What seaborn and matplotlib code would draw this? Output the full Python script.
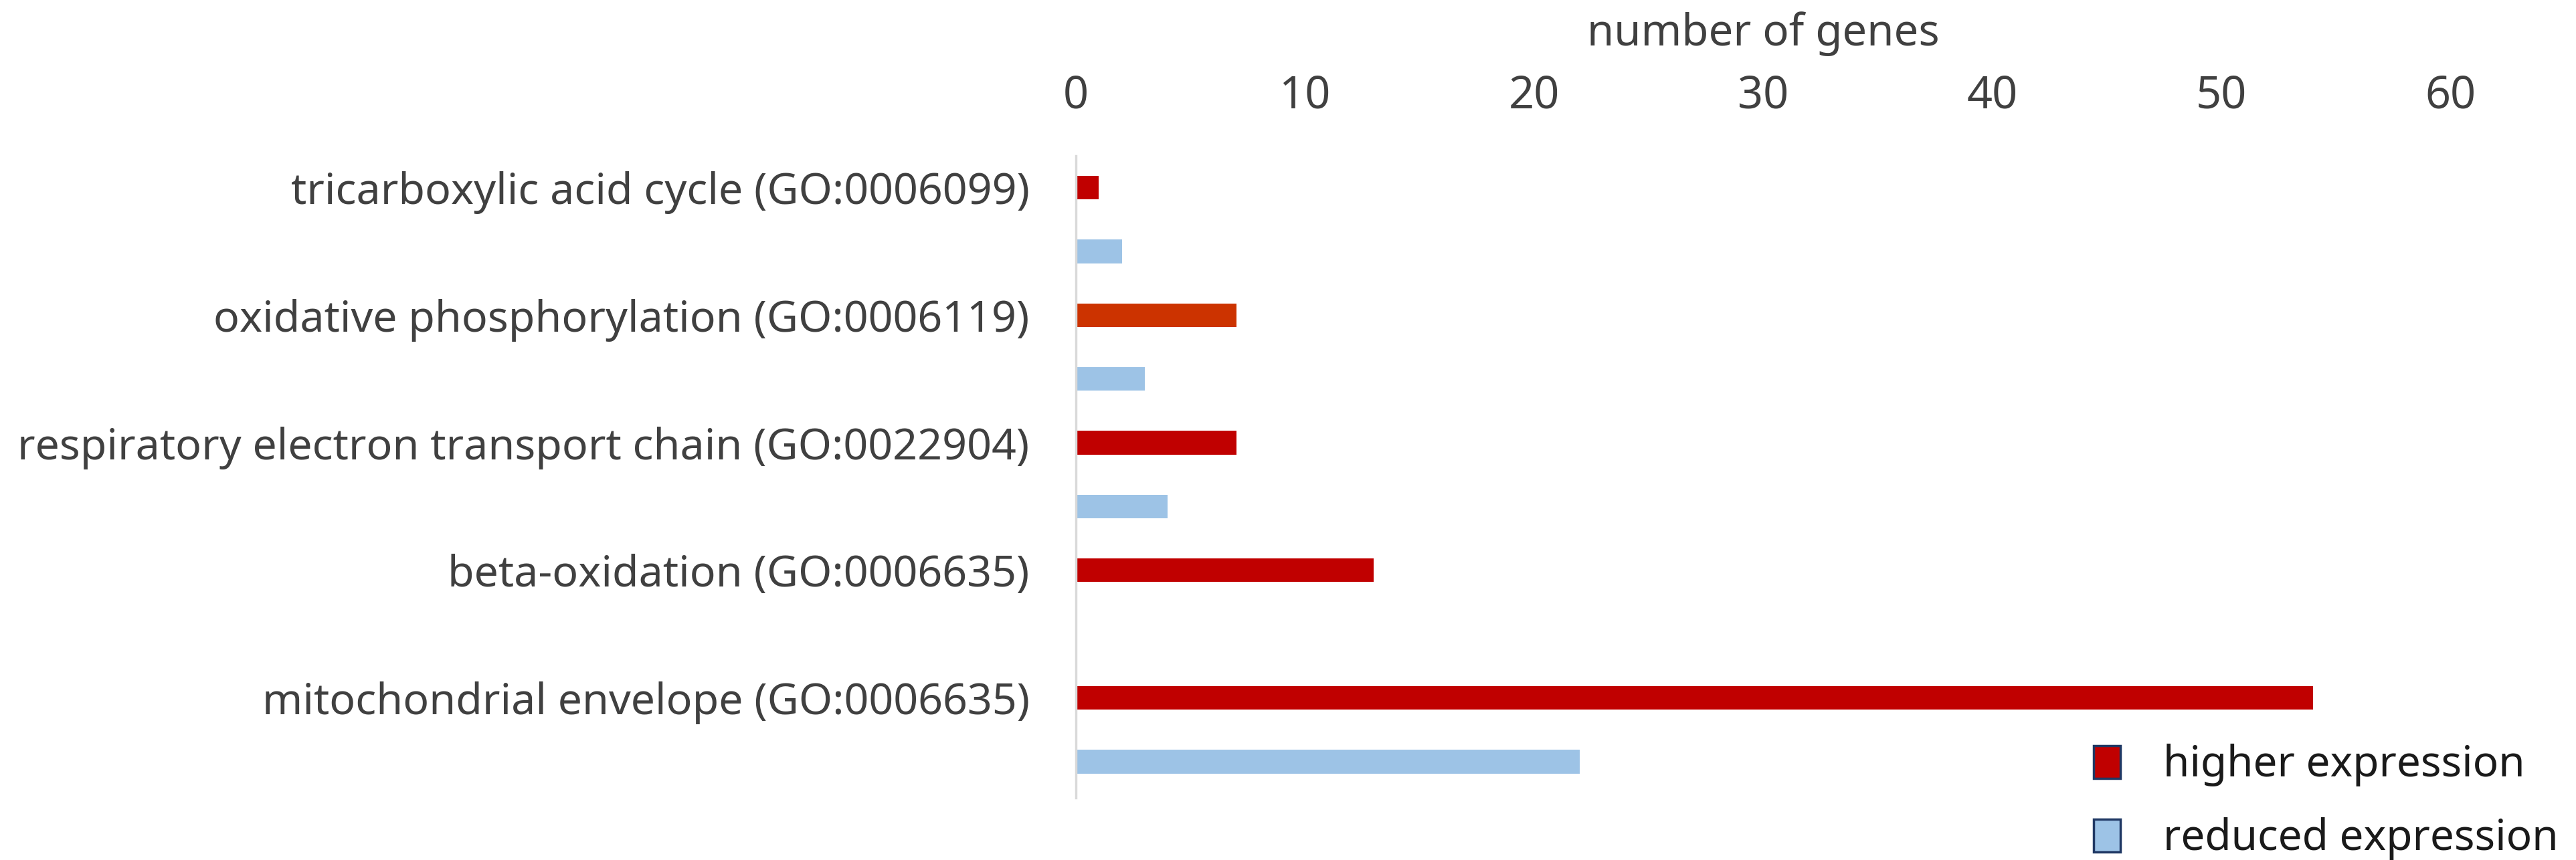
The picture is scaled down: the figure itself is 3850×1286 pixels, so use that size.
import pandas as pd
import matplotlib.pyplot as plt
import seaborn as sns
from matplotlib.patches import Patch

# -------------------------------
# DATA
# -------------------------------
categories = [
    'tricarboxylic acid cycle (GO:0006099)',
    'oxidative phosphorylation (GO:0006119)',
    'respiratory electron transport chain (GO:0022904)',
    'beta-oxidation (GO:0006635)',
    'mitochondrial envelope (GO:0006635)',
]
higher_expression = [1, 7, 7, 13, 54]
reduced_expression = [2, 3, 4, 0, 22]
series_names = ['higher expression', 'reduced expression']
x_ticks = [0, 10, 20, 30, 40, 50, 60]

red = '#C00000'
red_orange = '#CC3300'
blue = '#9DC3E6'
higher_colors = [red, red_orange, red, red, red]

# one row per bar: category then series, interleaved
rows, values, colors = [], [], []
for cat, hi, lo, hc in zip(categories, higher_expression, reduced_expression, higher_colors):
    rows += [cat + '|higher', cat + '|reduced']
    values += [hi, lo]
    colors += [hc, blue]

df = pd.DataFrame({'row': rows, 'value': values})

# -------------------------------
# PLOT
# -------------------------------
sns.set_style('white')
plt.rcParams['font.family'] = ['Noto Sans', 'DejaVu Sans']

fig = plt.figure(figsize=(38.5, 12.86), dpi=100)
ax = fig.add_axes([0.4177, 0.072, 0.9512 - 0.4177, 0.819 - 0.072])

sns.barplot(data=df, x='value', y='row', hue='row', order=rows,
            palette=dict(zip(rows, colors)), width=0.37, saturation=1,
            linewidth=0, legend=False, ax=ax)

ax.set_xlim(0, 60)
ax.set_ylim(9.57, -0.5)
ax.set_xticks(x_ticks)
ax.set_yticks(range(0, len(rows), 2))
ax.set_yticklabels(categories)
ax.xaxis.tick_top()
ax.xaxis.set_label_position('top')
ax.set_xlabel('number of genes', fontsize=47, color='#404040', labelpad=30)
ax.set_ylabel('')
ax.tick_params(axis='x', length=0, labelsize=48, labelcolor='#404040', pad=40)
ax.tick_params(axis='y', length=0, labelsize=46.5, labelcolor='#404040', pad=50)

for side in ['top', 'right', 'bottom']:
    ax.spines[side].set_visible(False)
ax.spines['left'].set_color('#D9D9D9')
ax.spines['left'].set_linewidth(2.5)

handles = [Patch(facecolor=red, edgecolor='#203864', linewidth=2.5),
           Patch(facecolor=blue, edgecolor='#203864', linewidth=2.5)]
leg = fig.legend(handles, series_names, loc='lower right', bbox_to_anchor=(1.008, -0.045),
                 frameon=False, fontsize=46, handlelength=0.62, handleheight=0.8,
                 handletextpad=1.0, labelspacing=0.72)
for t in leg.get_texts():
    t.set_color('#1a1a1a')

fig.savefig('out.png', dpi=100)
